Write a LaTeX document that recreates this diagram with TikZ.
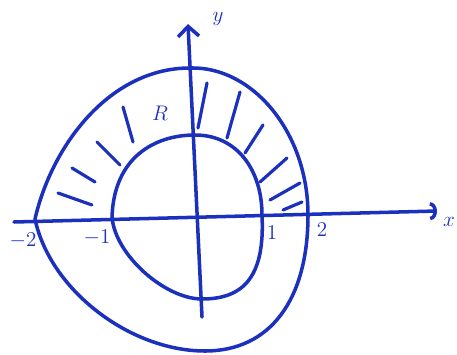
\documentclass[tikz,border=0pt]{standalone}
\usepackage{tikz}
\usetikzlibrary{arrows.meta}
\definecolor{ink}{RGB}{28,48,190}

\begin{document}
\begin{tikzpicture}[x=0.2mm,y=-0.2mm,
  pen/.style={draw=ink,line width=2pt,line cap=round,line join=round},
  hatch/.style={pen,line width=1.8pt},
  lbl/.style={text=ink,font=\sffamily\large,inner sep=1pt}]
\useasboundingbox (0,0) rectangle (457,354);
% axes
\coordinate (xl) at (14,222);
\coordinate (xr) at (437,211);
\coordinate (yb) at (202,317);
\coordinate (yt) at (188,24);
\draw[pen,-{Arc Barb[length=1.4mm,width=3.6mm]}] (xl) -- (xr);
\draw[pen,-{Straight Barb[length=2mm,width=4.2mm]}] (yb) -- (yt);
\node[lbl] (xlab) at (449,222) {$x$};
\node[lbl] (ylab) at (218,19) {$y$};
% outer curve
\coordinate (oL) at (35,219);
\coordinate (oT) at (190,68);
\coordinate (oR) at (308,215);
\coordinate (oB) at (205,351);
\draw[pen] (oL) .. controls (52,145) and (110,68) .. (oT)
  .. controls (252,66) and (308,132) .. (oR)
  .. controls (308,300) and (270,351) .. (oB)
  .. controls (130,351) and (50,290) .. (oL);
% inner curve
\coordinate (iL) at (112,217);
\coordinate (iT) at (195,135);
\coordinate (iR) at (262,215);
\coordinate (iB) at (202,299);
\draw[pen] (iL) .. controls (114,157) and (155,135) .. (iT)
  .. controls (237,135) and (262,170) .. (iR)
  .. controls (265,275) and (245,299) .. (iB)
  .. controls (165,299) and (115,255) .. (iL);
% hatching of R
\foreach \ax/\ay/\bx/\by in {58/193/92/205, 72/168/95/182, 97/142/120/165,
  123/107/133/142, 207/83/198/128, 240/92/227/138, 263/125/245/153,
  287/158/260/182, 300/183/270/200, 302/202/283/210}
  \draw[hatch] (\ax,\ay) -- (\bx,\by);
\node[lbl] (rlab) at (160,113) {$R$};
% ticks
\node[lbl] (m2) at (23,241) {$-2$};
\node[lbl] (m1) at (97,238) {$-1$};
\node[lbl] (p1) at (272,233) {$1$};
\node[lbl] (p2) at (322,230) {$2$};
\end{tikzpicture}
\end{document}
